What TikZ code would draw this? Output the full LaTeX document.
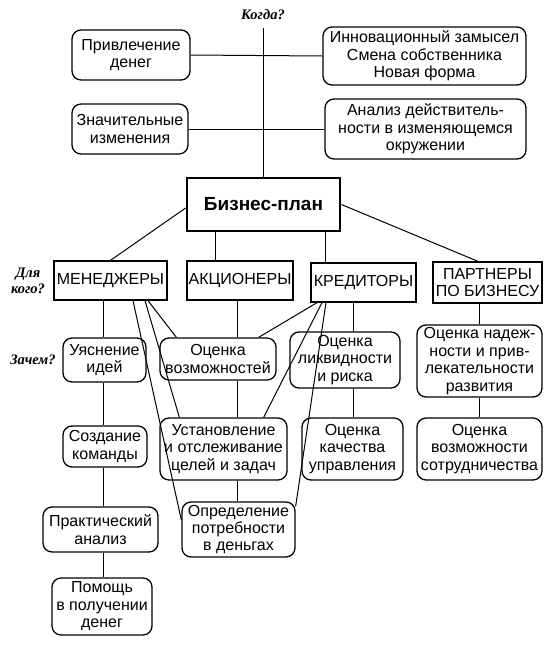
\documentclass[tikz,border=0pt]{standalone}
\usepackage{fontspec}
\setmainfont{Liberation Sans}
\newfontfamily\labelfont{Liberation Serif}
\usetikzlibrary{calc}
\begin{document}
\begin{tikzpicture}[x=1pt,y=-1pt,
  txt/.style={align=center,inner sep=0pt,font=\fontsize{16}{17.5}\selectfont},
  rbox/.style={txt,draw,rounded corners=9pt,line width=1.3pt},
  sbox/.style={txt,draw,line width=1.3pt},
  mainbox/.style={draw,line width=2.8pt,inner sep=0pt,font=\bfseries\fontsize{19}{22}\selectfont},
  conn/.style={line width=1pt},
  qlabel/.style={font=\labelfont\bfseries\itshape\fontsize{14.5}{16.5}\selectfont,align=center,inner sep=0pt}]
\useasboundingbox[fill=white] (0,0) rectangle (559,651);

% question labels
\node[qlabel] (when) at (263,15) {Когда?};
\node[qlabel] (whom) at (28,281) {Для\\кого?};
\node[qlabel] (why) at (33,360) {Зачем?};

% top
\node[rbox,minimum width=118pt,minimum height=50pt] (money) at (131,55) {Привлечение\\денег};
\node[rbox,minimum width=203pt,minimum height=58pt] (innov) at (424.5,56) {Инновационный замысел\\Смена собственника\\Новая форма};
\node[rbox,minimum width=116pt,minimum height=50pt] (changes) at (130,129) {Значительные\\изменения};
\node[rbox,minimum width=201pt,minimum height=60pt] (analysis) at (425.5,129) {Анализ действитель-\\ности в изменяющемся\\окружении};

\node[mainbox,minimum width=153pt,minimum height=53pt] (plan) at (263.5,204.5) {Бизнес-план};

% audiences
\node[sbox,minimum width=113pt,minimum height=39pt] (mgr) at (110.5,280.5) {МЕНЕДЖЕРЫ};
\node[sbox,minimum width=106pt,minimum height=39pt] (shr) at (240,280.5) {АКЦИОНЕРЫ};
\node[sbox,minimum width=105pt,minimum height=39pt] (crd) at (363.5,282.5) {КРЕДИТОРЫ};
\node[sbox,minimum width=109pt,minimum height=41pt] (prt) at (487.5,282.5) {ПАРТНЕРЫ\\ПО БИЗНЕСУ};

% managers column
\node[rbox,minimum width=83pt,minimum height=44pt] (idea) at (104.5,360) {Уяснение\\идей};
\node[rbox,minimum width=84pt,minimum height=41pt] (team) at (105,446.5) {Создание\\команды};
\node[rbox,minimum width=115pt,minimum height=45pt] (pract) at (100.5,529.5) {Практический\\анализ};
\node[rbox,minimum width=100pt,minimum height=57pt] (help) at (102,606.5) {Помощь\\в получении\\денег};

% shareholders column
\node[rbox,minimum width=116pt,minimum height=42pt] (opp) at (218,359) {Оценка\\возможностей};
\node[rbox,minimum width=127pt,minimum height=62pt] (goals) at (223.5,449) {Установление\\и отслеживание\\целей и задач};
\node[rbox,minimum width=113pt,minimum height=55pt] (need) at (238.5,529.5) {Определение\\потребности\\в деньгах};

% creditors column
\node[rbox,minimum width=110pt,minimum height=56pt] (liq) at (345,360) {Оценка\\ликвидности\\и риска};
\node[rbox,minimum width=101pt,minimum height=62pt] (qual) at (352.5,449) {Оценка\\качества\\управления};

% partners column
\node[rbox,minimum width=125pt,minimum height=72pt] (rel) at (479.5,361) {Оценка надеж-\\ности и прив-\\лекательности\\развития};
\node[rbox,minimum width=125pt,minimum height=62pt] (coop) at (479.5,449) {Оценка\\возможности\\сотрудничества};

% column coordinates
\coordinate (mcol) at (103,0);
\coordinate (acol) at (215,0);
\coordinate (kcol) at (325,0);
\coordinate (scol) at (237,0);
\coordinate (ccol) at (353,0);
\coordinate (pcol) at (479,0);

% top connectors
\draw[conn] ([yshift=-8pt]when.south) -- (when.south |- plan.north);
\draw[conn] (money.east) -- (innov.west);
\draw[conn] (changes.east) -- (analysis.west);

% plan to audiences
\draw[conn] ([yshift=-3.5pt]plan.west) -- (mgr.north);
\draw[conn] (plan.south -| acol) -- (shr.north -| acol);
\draw[conn] (plan.south -| kcol) -- (crd.north -| kcol);
\draw[conn] (plan.east) -- ([xshift=-9.5pt]prt.north);

% vertical chains
\draw[conn] (mgr.south -| mcol) -- (idea.north -| mcol);
\draw[conn] (idea.south -| mcol) -- (team.north -| mcol);
\draw[conn] (team.south -| mcol) -- (pract.north -| mcol);
\draw[conn] (pract.south -| mcol) -- (help.north -| mcol);

\draw[conn] (shr.south -| scol) -- (opp.north -| scol);
\draw[conn] (opp.south -| scol) -- (goals.north -| scol);
\draw[conn] (goals.south -| scol) -- (need.north -| scol);

\draw[conn] (crd.south -| ccol) -- (liq.north -| ccol);
\draw[conn] (liq.south -| ccol) -- (qual.north -| ccol);

\draw[conn] (prt.south -| pcol) -- (rel.north -| pcol);
\draw[conn] (rel.south -| pcol) -- (coop.north -| pcol);

% diagonal connectors from managers
\draw[conn] ([xshift=22.5pt]mgr.south) -- ([yshift=9.5pt]need.west);
\draw[conn] ([xshift=34.5pt]mgr.south) -- ([xshift=20pt]goals.north west);
\draw[conn] ([xshift=37.5pt]mgr.south) -- ([xshift=17pt]opp.north west);

% diagonal connectors from creditors
\draw[conn] ([xshift=-46.5pt]crd.south) -- ([xshift=-18pt]opp.north east);
\draw[conn] ([xshift=-41.5pt]crd.south) -- ([xshift=-24pt]goals.north east);
\draw[conn] ([xshift=-37.5pt]crd.south) -- ([yshift=-5pt]need.north east);
\end{tikzpicture}
\end{document}
